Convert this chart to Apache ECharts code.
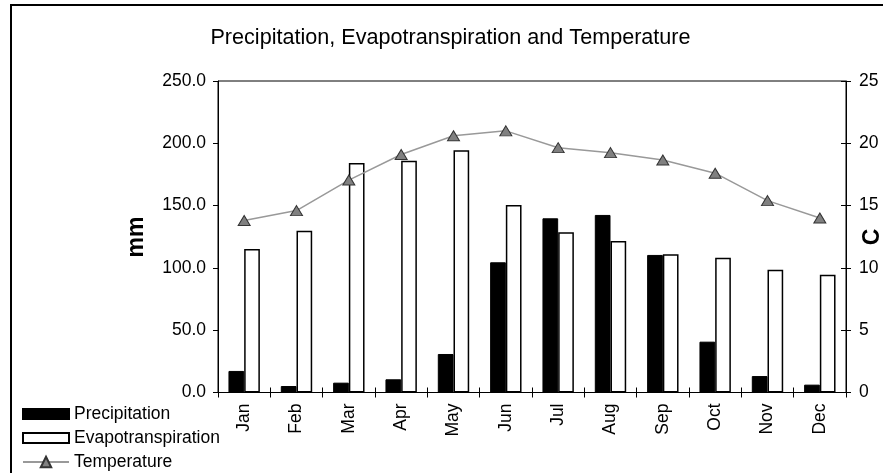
<!DOCTYPE html>
<html>
<head>
<meta charset="utf-8">
<script src="https://cdn.jsdelivr.net/npm/echarts@6/dist/echarts.min.js"></script>
<style>
  html, body { margin: 0; padding: 0; background: #fff; }
  #chart { width: 883px; height: 473px; }
</style>
</head>
<body>
<div id="chart"></div>
<script>
// Monthly climate data
const months = ['Jan', 'Feb', 'Mar', 'Apr', 'May', 'Jun', 'Jul', 'Aug', 'Sep', 'Oct', 'Nov', 'Dec'];
const precipitation = [17.3, 5.2, 7.9, 10.6, 30.9, 104.5, 139.8, 142.5, 110.4, 40.8, 13.2, 6.3];
const evapotranspiration = [115.2, 129.9, 184.2, 186.0, 194.4, 150.5, 128.6, 121.6, 110.9, 108.2, 98.6, 94.5];
const temperature = [13.8, 14.6, 17.05, 19.1, 20.6, 21.0, 19.65, 19.25, 18.66, 17.6, 15.4, 14.0];

const FONT = 'Liberation Sans, Arial, sans-serif';
const chart = echarts.init(document.getElementById('chart'), null, { renderer: 'canvas' });

const legendText = { fontFamily: FONT, fontSize: 17.5, color: '#000', lineHeight: 22 };

chart.setOption({
  animation: false,
  backgroundColor: '#ffffff',
  textStyle: { fontFamily: FONT, color: '#000' },
  title: {
    text: 'Precipitation, Evapotranspiration and Temperature',
    left: 445.5,
    top: 22,
    textAlign: 'center',
    textStyle: { fontFamily: FONT, fontSize: 21.6, fontWeight: 'normal', color: '#000' }
  },
  legend: [
    {
      orient: 'vertical',
      left: 22,
      top: 403,
      height: 60,
      padding: 0,
      itemWidth: 46,
      itemHeight: 10,
      itemGap: 2,
      textStyle: legendText,
      data: [
        { name: 'Precipitation', icon: 'rect' },
        { name: 'Evapotranspiration', icon: 'rect' }
      ]
    },
    {
      // the line entry gets a taller box so its triangle reads at full size
      orient: 'vertical',
      left: 22,
      top: 451,
      height: 30,
      padding: 0,
      itemWidth: 46,
      itemHeight: 13,
      textStyle: legendText,
      data: [{ name: 'Temperature' }]
    }
  ],
  grid: {
    left: 218, right: 37, top: 81, bottom: 80.5,
    show: true, borderColor: '#000', borderWidth: 1, backgroundColor: 'transparent'
  },
  xAxis: [
    {
      type: 'category', data: months, position: 'bottom',
      axisLine: { lineStyle: { color: '#000', width: 1 } },
      axisTick: { show: true, length: 5, lineStyle: { color: '#000' } },
      axisLabel: { rotate: 90, margin: 11, fontFamily: FONT, fontSize: 17.5, color: '#000' }
    },
    {
      // inward half of the crossing category ticks
      type: 'category', data: months, position: 'bottom',
      axisLine: { show: false },
      axisTick: { show: true, inside: true, length: 5, lineStyle: { color: '#000' } },
      axisLabel: { show: false }
    }
  ],
  yAxis: [
    {
      type: 'value', min: 0, max: 250, interval: 50, position: 'left',
      axisLine: { show: true, lineStyle: { color: '#000' } },
      axisTick: { show: true, length: 5, lineStyle: { color: '#000' } },
      axisLabel: { margin: 12, fontFamily: FONT, fontSize: 17.5, color: '#000',
        formatter: v => v.toFixed(1) },
      splitLine: { show: false }
    },
    {
      type: 'value', min: 0, max: 25, interval: 5, position: 'right',
      axisLine: { show: true, lineStyle: { color: '#000' } },
      axisTick: { show: true, length: 5, lineStyle: { color: '#000' } },
      axisLabel: { margin: 13, fontFamily: FONT, fontSize: 17.5, color: '#000' },
      splitLine: { show: false }
    },
    {
      // inward half of the crossing temperature ticks
      type: 'value', min: 0, max: 25, interval: 5, position: 'right',
      axisLine: { show: false },
      axisTick: { show: true, inside: true, length: 5, lineStyle: { color: '#000' } },
      axisLabel: { show: false },
      splitLine: { show: false }
    }
  ],
  graphic: [
    {
      type: 'rect', silent: true, z: 100,
      shape: { x: 11, y: 5, width: 920, height: 520 },
      style: { fill: 'none', stroke: '#000', lineWidth: 2 }
    },
    {
      type: 'text', x: 137, y: 237, rotation: Math.PI / 2, silent: true,
      style: { text: 'mm', fontFamily: FONT, fontSize: 23, fontWeight: 'bold', fill: '#000',
        textAlign: 'center', textVerticalAlign: 'middle' }
    },
    {
      type: 'text', x: 873, y: 237, rotation: Math.PI / 2, silent: true,
      style: { text: 'C', fontFamily: FONT, fontSize: 23, fontWeight: 'bold', fill: '#000',
        textAlign: 'center', textVerticalAlign: 'middle' }
    }
  ],
  series: [
    {
      name: 'Precipitation', type: 'bar', data: precipitation,
      barWidth: '30%', barGap: '0%',
      itemStyle: { color: '#000', borderColor: '#000', borderWidth: 1 }
    },
    {
      name: 'Evapotranspiration', type: 'bar', data: evapotranspiration,
      barWidth: '30%', barGap: '0%',
      itemStyle: { color: '#fff', borderColor: '#000', borderWidth: 1.5 }
    },
    {
      name: 'Temperature', type: 'line', yAxisIndex: 1, data: temperature,
      symbol: 'triangle', symbolSize: [12, 10],
      lineStyle: { color: '#999', width: 1.5 },
      itemStyle: { color: '#808080', borderColor: '#333', borderWidth: 1 }
    }
  ]
});
</script>
</body>
</html>
